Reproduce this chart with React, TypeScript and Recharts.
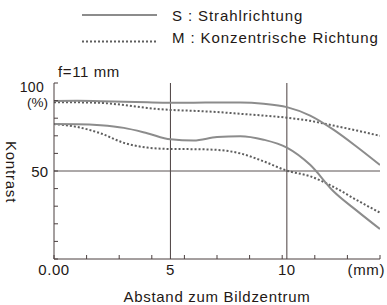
import { LineChart, Line, XAxis, YAxis, ReferenceLine } from "recharts";

// distance from image centre (mm)
const DIST = [0, 1, 2, 3, 4, 5, 6, 7, 8, 9, 10, 11, 12, 13, 14];
// contrast (%)
const S_HIGH = [89.8, 89.9, 89.7, 89.3, 89.0, 88.8, 88.8, 88.9, 88.9, 88.2, 86.3, 81.5, 73.5, 63.8, 53.4];
const M_HIGH = [89.0, 89.0, 88.7, 87.5, 85.8, 84.7, 84.2, 83.5, 82.5, 81.5, 80.3, 78.5, 75.8, 73.0, 70.0];
const S_LOW = [76.7, 76.6, 76.0, 74.5, 71.5, 68.0, 67.3, 69.3, 69.8, 67.8, 63.3, 53.5, 38.5, 27.5, 17.0];
const M_LOW = [76.7, 75.0, 71.4, 66.0, 63.3, 62.5, 62.4, 62.0, 60.0, 55.5, 50.2, 47.0, 41.0, 33.5, 26.3];

const MINOR_TICKS = [0, 1.4, 2.8, 4.2, 5.6, 7, 8.4, 9.8, 11.2, 12.6, 14];
const X_LABELS: Record<number, string> = { 0: "0.00", 5: "5", 10: "10", 14: "(mm)" };
const Y_TICKS = [0, 10, 20, 30, 40, 50, 60, 70, 80, 90, 100];

const FONT = "'Liberation Sans', Arial, sans-serif";
const TEXT = "#231815";
const FRAME = "#4a3f3f";
const SOLID = "#8c8c8c";
const DOTTED = "#5e5e5e";

const data = DIST.map((d, i) => ({
  d,
  sHigh: S_HIGH[i],
  mHigh: M_HIGH[i],
  sLow: S_LOW[i],
  mLow: M_LOW[i],
}));

const BottomTick = ({ x, y, payload }: any) => {
  const v = payload.value;
  const label = X_LABELS[v];
  return (
    <g>
      {MINOR_TICKS.includes(v) && (
        <line x1={x} y1={y} x2={x} y2={y - 4} stroke={FRAME} strokeWidth={1} />
      )}
      {label && (
        <text
          x={v === 14 ? x + 5 : x}
          y={y + 16}
          textAnchor={v === 14 ? "end" : "middle"}
          fontFamily={FONT}
          fontSize={15}
          letterSpacing={0.6}
          fill={TEXT}
        >
          {label}
        </text>
      )}
    </g>
  );
};

const TopTick = ({ x, y }: any) => (
  <line x1={x} y1={y} x2={x} y2={y + 4} stroke={FRAME} strokeWidth={1} />
);

const LeftTick = ({ x, y, payload }: any) => {
  const v = payload.value;
  return (
    <g>
      <line x1={x} y1={y} x2={x + 4} y2={y} stroke={FRAME} strokeWidth={1} />
      {v === 100 && (
        <>
          <text x={x - 10} y={y + 9} textAnchor="end" fontFamily={FONT} fontSize={14} letterSpacing={0.3} fill={TEXT}>
            100
          </text>
          <text x={x - 6} y={y + 24} textAnchor="end" fontFamily={FONT} fontSize={13.5} fill={TEXT}>
            (%)
          </text>
        </>
      )}
      {v === 50 && (
        <text x={x - 6} y={y + 5.5} textAnchor="end" fontFamily={FONT} fontSize={15} fill={TEXT}>
          50
        </text>
      )}
    </g>
  );
};

const RightTick = ({ x, y }: any) => (
  <line x1={x} y1={y} x2={x - 4} y2={y} stroke={FRAME} strokeWidth={1} />
);

export default function App() {
  return (
    <div style={{ position: "absolute", left: 0, top: 0, width: 387, height: 305, background: "#fff" }}>
      <LineChart width={387} height={305} data={data} margin={{ top: 83, right: 7, left: 0, bottom: 0 }}>
        <XAxis
          dataKey="d"
          type="number"
          domain={[0, 14]}
          allowDataOverflow
          ticks={[0, 1.4, 2.8, 4.2, 5, 5.6, 7, 8.4, 9.8, 10, 11.2, 12.6, 14]}
          interval={0}
          height={46}
          tickSize={0}
          tickMargin={0}
          tickLine={false}
          axisLine={{ stroke: FRAME, strokeWidth: 1 }}
          tick={<BottomTick />}
        />
        <XAxis
          xAxisId="top"
          orientation="top"
          type="number"
          domain={[0, 14]}
          allowDataOverflow
          ticks={MINOR_TICKS}
          interval={0}
          height={0}
          tickSize={0}
          tickMargin={0}
          tickLine={false}
          axisLine={{ stroke: "#777", strokeWidth: 1 }}
          tick={<TopTick />}
        />
        <YAxis
          type="number"
          domain={[0, 100]}
          allowDataOverflow
          ticks={Y_TICKS}
          interval={0}
          width={54}
          tickSize={0}
          tickMargin={0}
          tickLine={false}
          axisLine={{ stroke: FRAME, strokeWidth: 1 }}
          tick={<LeftTick />}
        />
        <YAxis
          yAxisId="right"
          orientation="right"
          type="number"
          domain={[0, 100]}
          allowDataOverflow
          ticks={Y_TICKS}
          interval={0}
          width={0}
          tickSize={0}
          tickMargin={0}
          tickLine={false}
          axisLine={{ stroke: FRAME, strokeWidth: 1 }}
          tick={<RightTick />}
        />
        <ReferenceLine x={5} stroke={FRAME} strokeWidth={1} />
        <ReferenceLine x={10} stroke={FRAME} strokeWidth={1} />
        <ReferenceLine y={50} stroke="#5a5252" strokeWidth={1} />
        <Line type="monotone" dataKey="mHigh" stroke={DOTTED} strokeWidth={2} strokeDasharray="2 2" dot={false} isAnimationActive={false} />
        <Line type="monotone" dataKey="mLow" stroke={DOTTED} strokeWidth={2} strokeDasharray="2 2" dot={false} isAnimationActive={false} />
        <Line type="monotone" dataKey="sHigh" stroke={SOLID} strokeWidth={2} dot={false} isAnimationActive={false} />
        <Line type="monotone" dataKey="sLow" stroke={SOLID} strokeWidth={2} dot={false} isAnimationActive={false} />
      </LineChart>
      <svg width={387} height={305} style={{ position: "absolute", left: 0, top: 0, pointerEvents: "none" }}>
        <g fontFamily={FONT} fontSize={15} fill={TEXT}>
          <line x1={82} y1={15} x2={157} y2={15} stroke={SOLID} strokeWidth={2} />
          <text x={172} y={20.5} letterSpacing={0.9}>S : Strahlrichtung</text>
          <line x1={82} y1={41.5} x2={157} y2={41.5} stroke={DOTTED} strokeWidth={2} strokeDasharray="2 2" />
          <text x={172} y={42.7} letterSpacing={0.9}>M : Konzentrische Richtung</text>
          <text x={58} y={77} letterSpacing={0.6}>f=11 mm</text>
          <text x={217} y={302} textAnchor="middle" letterSpacing={0.7}>Abstand zum Bildzentrum</text>
          <text x={6} y={172} textAnchor="middle" letterSpacing={0.8} transform="rotate(90 6 172)">
            Kontrast
          </text>
        </g>
      </svg>
    </div>
  );
}
